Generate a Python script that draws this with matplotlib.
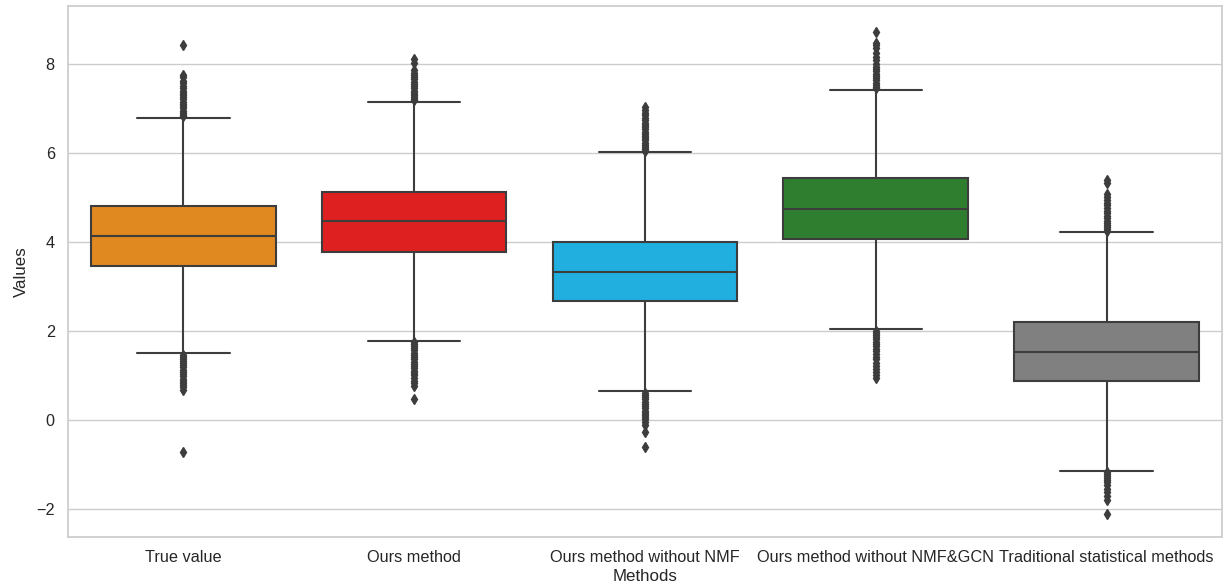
import matplotlib
matplotlib.use("Agg")
import matplotlib.pyplot as plt
import seaborn as sns

# Summary statistics per method
methods = ["True value", "Ours method", "Ours method without NMF",
           "Ours method without NMF&GCN", "Traditional statistical methods"]
q1 = [3.46, 3.78, 2.67, 4.07, 0.88]
medians = [4.13, 4.47, 3.32, 4.74, 1.53]
q3 = [4.81, 5.12, 4.00, 5.44, 2.20]
whisker_low = [1.50, 1.78, 0.65, 2.04, -1.15]
whisker_high = [6.79, 7.15, 6.02, 7.42, 4.22]

# Outlying observations per method
fliers_true = [6.82, 6.86, 6.90, 6.95, 7.00, 7.05, 7.10, 7.15, 7.20, 7.25, 7.30,
               7.35, 7.40, 7.45, 7.50, 7.56, 7.62, 7.70, 7.76, 8.42,
               1.46, 1.42, 1.38, 1.33, 1.28, 1.23, 1.18, 1.13, 1.08, 1.03, 0.98,
               0.93, 0.88, 0.83, 0.78, 0.73, 0.68, -0.71]
fliers_ours = [7.18, 7.22, 7.26, 7.30, 7.35, 7.40, 7.45, 7.50, 7.55, 7.60, 7.65,
               7.70, 7.75, 7.80, 7.86, 8.03, 8.12,
               1.75, 1.71, 1.66, 1.61, 1.56, 1.51, 1.46, 1.41, 1.36, 1.31, 1.26,
               1.21, 1.16, 1.11, 1.06, 1.00, 0.94, 0.88, 0.82, 0.76, 0.46]
fliers_no_nmf = [6.05, 6.09, 6.13, 6.18, 6.23, 6.28, 6.33, 6.38, 6.43, 6.48, 6.53,
                 6.58, 6.63, 6.68, 6.73, 6.78, 6.84, 6.90, 6.96, 7.02,
                 0.61, 0.56, 0.51, 0.46, 0.41, 0.36, 0.31, 0.26, 0.21, 0.16, 0.11,
                 0.06, 0.01, -0.05, -0.12, -0.28, -0.60]
fliers_no_nmf_gcn = [7.45, 7.49, 7.53, 7.58, 7.63, 7.68, 7.73, 7.78, 7.83, 7.88,
                     7.94, 8.00, 8.08, 8.16, 8.24, 8.35, 8.42, 8.47, 8.72,
                     2.00, 1.96, 1.91, 1.86, 1.81, 1.76, 1.71, 1.66, 1.60, 1.54,
                     1.48, 1.42, 1.36, 1.29, 1.22, 1.15, 1.08, 1.01, 0.94]
fliers_traditional = [4.25, 4.29, 4.33, 4.38, 4.43, 4.48, 4.53, 4.58, 4.64, 4.70,
                      4.76, 4.82, 4.88, 4.94, 5.00, 5.08, 5.32, 5.40,
                      -1.18, -1.22, -1.26, -1.30, -1.35, -1.40, -1.46, -1.55,
                      -1.62, -1.70, -1.80, -2.11]
fliers = [fliers_true, fliers_ours, fliers_no_nmf, fliers_no_nmf_gcn, fliers_traditional]

base_colors = ["darkorange", "red", "deepskyblue", "forestgreen", "gray"]

sns.set_theme(style="whitegrid")
plt.rcParams["font.family"] = ["Liberation Sans", "DejaVu Sans"]

fill_colors = [sns.desaturate(c, 0.75) for c in base_colors]
line_gray = "#3d3d3d"

stats = []
for i, name in enumerate(methods):
    stats.append({
        "label": name,
        "q1": q1[i], "med": medians[i], "q3": q3[i],
        "whislo": whisker_low[i], "whishi": whisker_high[i],
        "fliers": fliers[i],
    })

fig = plt.figure(figsize=(12.31, 5.87), dpi=100)
ax = fig.add_axes([0.0552, 0.0852, 0.9375, 0.9046])

lw = 1.5
bp = ax.bxp(
    stats, positions=range(len(methods)), widths=0.8, capwidths=0.4,
    patch_artist=True, showfliers=True,
    boxprops=dict(edgecolor=line_gray, linewidth=lw),
    medianprops=dict(color=line_gray, linewidth=lw),
    whiskerprops=dict(color=line_gray, linewidth=lw),
    capprops=dict(color=line_gray, linewidth=lw),
    flierprops=dict(marker="d", markersize=5, markerfacecolor=line_gray,
                    markeredgecolor=line_gray, linestyle="none"),
)
for patch, col in zip(bp["boxes"], fill_colors):
    patch.set_facecolor(col)

ax.set_xlim(-0.5, len(methods) - 0.5)
ax.set_ylim(-2.63, 9.30)
ax.set_yticks([-2, 0, 2, 4, 6, 8])
ax.set_yticklabels(["\u22122", "0", "2", "4", "6", "8"])
ax.set_xticks(range(len(methods)))
ax.set_xticklabels(methods)
ax.tick_params(axis="both", labelsize=11.7, colors=".15")
ax.set_xlabel("Methods", fontsize=12.2, color=".15", labelpad=3)
ax.set_ylabel("Values", fontsize=12.2, color=".15", labelpad=5)
ax.xaxis.grid(False)

fig.savefig("out.png", dpi=100)
